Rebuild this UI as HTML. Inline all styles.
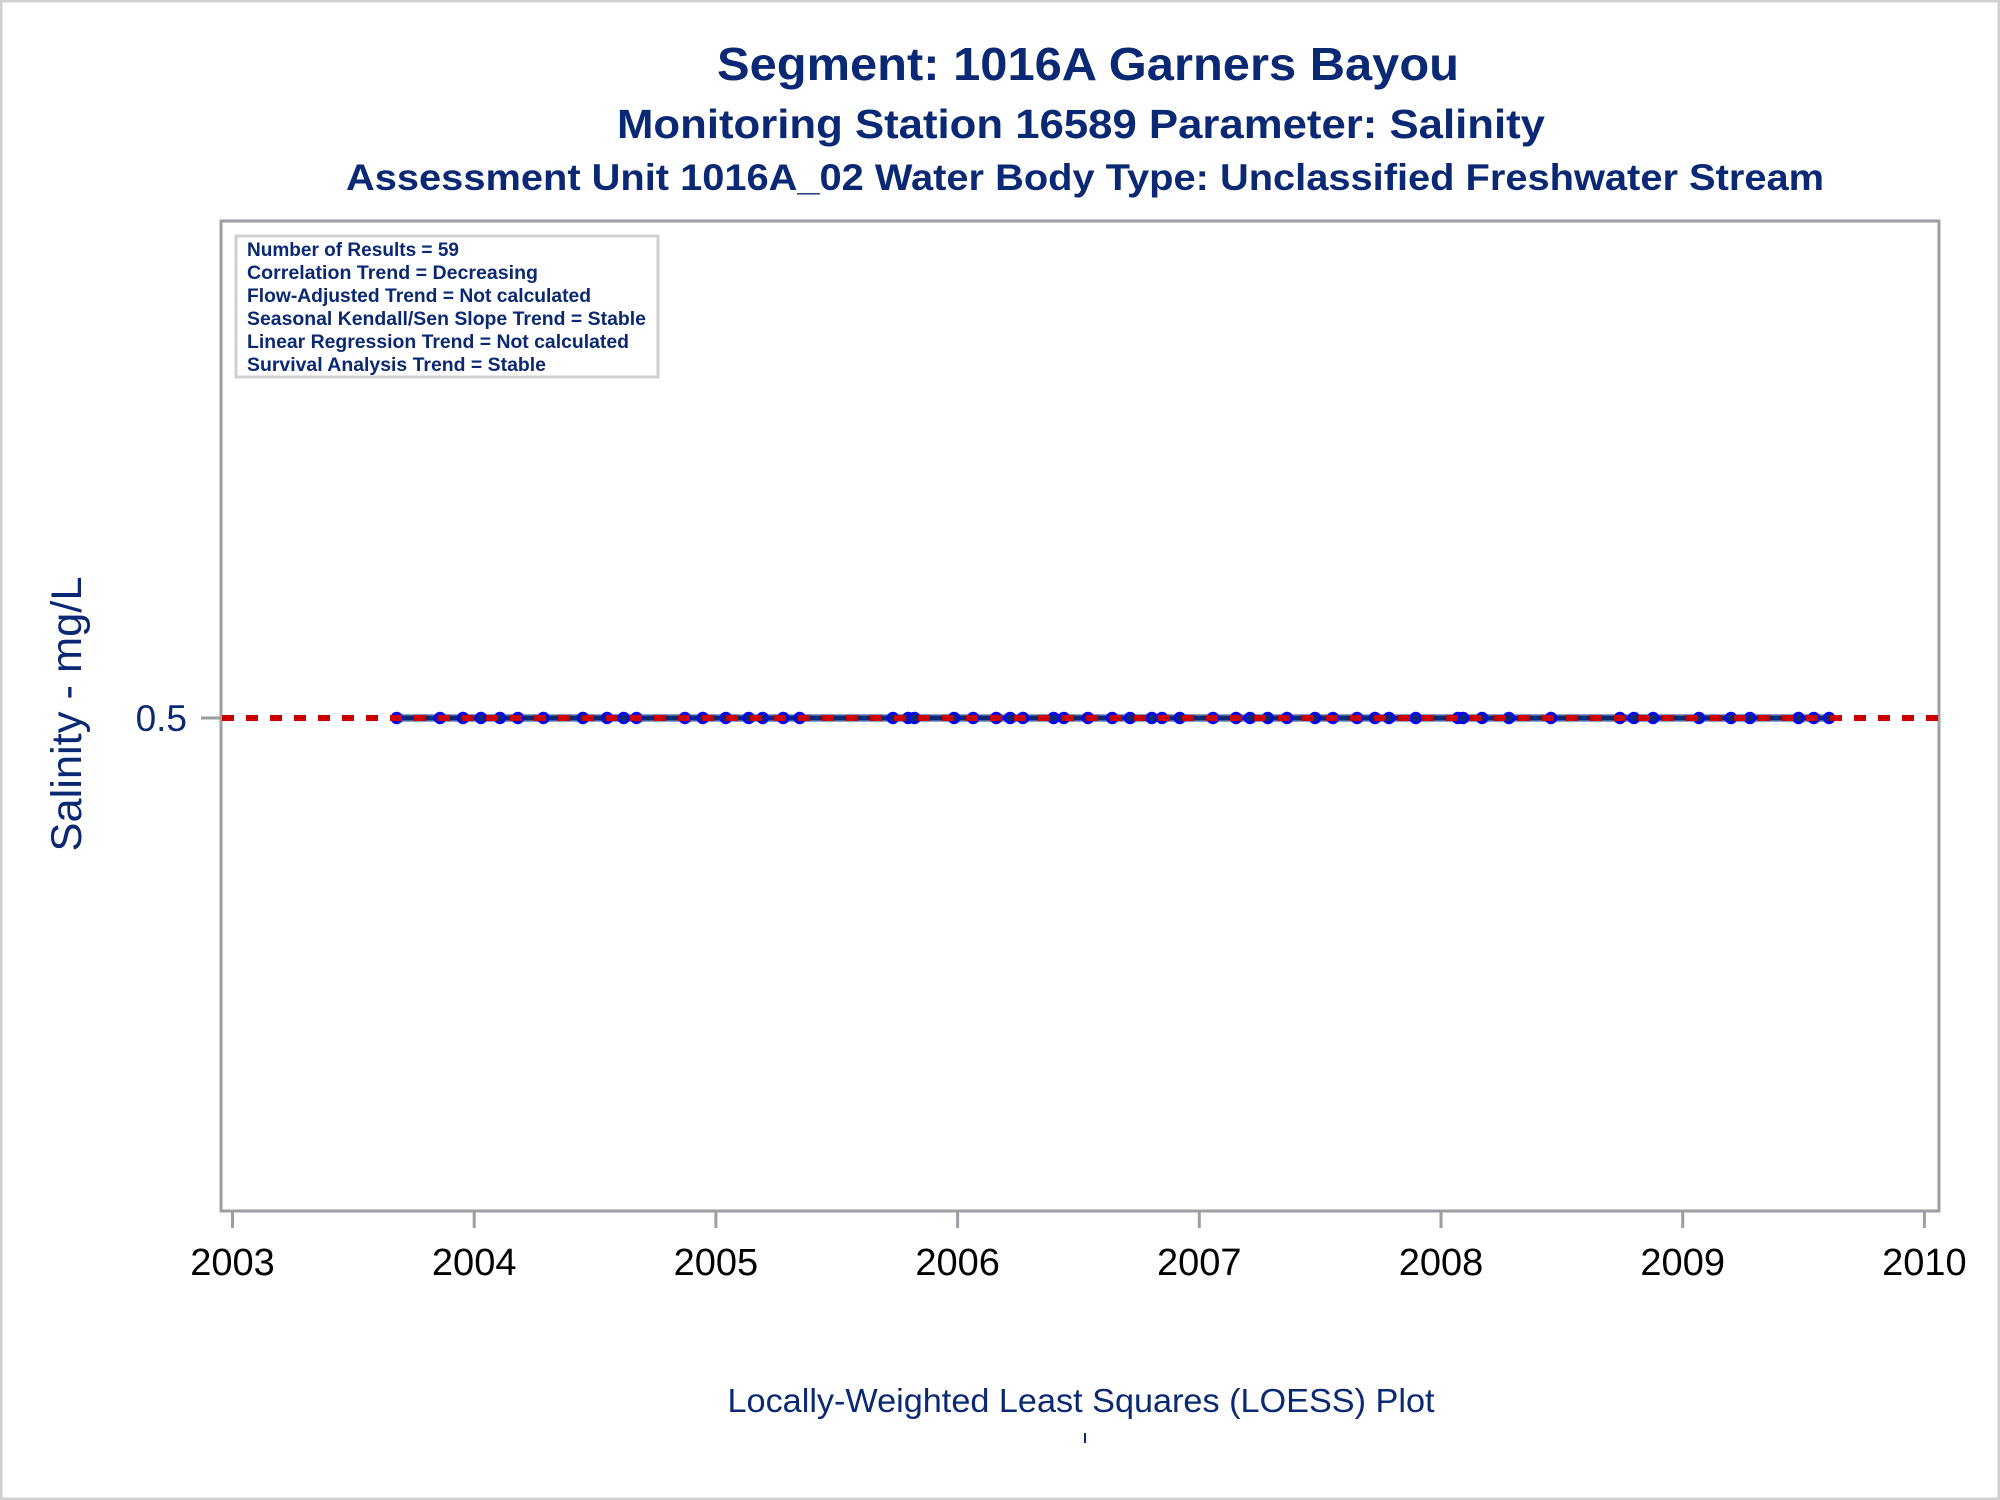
<!DOCTYPE html>
<html><head><meta charset="utf-8"><style>
html,body{margin:0;padding:0;background:#fff}
svg{display:block}
</style></head><body>
<svg width="2000" height="1500" viewBox="0 0 2000 1500" xmlns="http://www.w3.org/2000/svg" font-family="'Liberation Sans', Arial, sans-serif">
<rect x="1" y="1" width="1998" height="1498" fill="#fff" stroke="#d0d0d0" stroke-width="3"/>
<g fill="#0a2873" text-anchor="middle" font-weight="bold">
<text x="1088" y="80" font-size="46" textLength="742" lengthAdjust="spacingAndGlyphs">Segment: 1016A  Garners Bayou</text>
<text x="1081" y="138" font-size="41" textLength="928" lengthAdjust="spacingAndGlyphs">Monitoring Station 16589 Parameter: Salinity</text>
<text x="1085" y="190" font-size="37" textLength="1478" lengthAdjust="spacingAndGlyphs">Assessment Unit 1016A_02   Water Body Type: Unclassified Freshwater Stream</text>
</g>
<rect x="221" y="221" width="1718" height="990" fill="none" stroke="#9b9ea3" stroke-width="3"/>
<rect x="236" y="236" width="422" height="141" fill="#fff" stroke="#d0d0d0" stroke-width="3"/>
<g fill="#0a2873" font-weight="bold" font-size="19">
<text x="247" y="256" textLength="212" lengthAdjust="spacingAndGlyphs">Number of Results = 59</text>
<text x="247" y="279" textLength="291" lengthAdjust="spacingAndGlyphs">Correlation Trend = Decreasing</text>
<text x="247" y="302" textLength="344" lengthAdjust="spacingAndGlyphs">Flow-Adjusted Trend = Not calculated</text>
<text x="247" y="325" textLength="399" lengthAdjust="spacingAndGlyphs">Seasonal Kendall/Sen Slope Trend = Stable</text>
<text x="247" y="348" textLength="382" lengthAdjust="spacingAndGlyphs">Linear Regression Trend = Not calculated</text>
<text x="247" y="371" textLength="299" lengthAdjust="spacingAndGlyphs">Survival Analysis Trend = Stable</text>
</g>
<line x1="201" y1="718" x2="221" y2="718" stroke="#9b9ea3" stroke-width="3"/>
<text x="187" y="731" font-size="37" fill="#0a2873" text-anchor="end">0.5</text>
<text transform="translate(81,714) rotate(-90)" font-size="43" fill="#0a2873" text-anchor="middle" textLength="275" lengthAdjust="spacingAndGlyphs">Salinity - mg/L</text>
<g stroke="#9b9ea3" stroke-width="3">
<line x1="232.5" y1="1211" x2="232.5" y2="1228"/><line x1="474.2" y1="1211" x2="474.2" y2="1228"/><line x1="715.9" y1="1211" x2="715.9" y2="1228"/><line x1="957.6" y1="1211" x2="957.6" y2="1228"/><line x1="1199.3" y1="1211" x2="1199.3" y2="1228"/><line x1="1441" y1="1211" x2="1441" y2="1228"/><line x1="1682.7" y1="1211" x2="1682.7" y2="1228"/><line x1="1924.4" y1="1211" x2="1924.4" y2="1228"/>
</g>
<g font-size="38" fill="#000" text-anchor="middle">
<text x="232.5" y="1275">2003</text><text x="474.2" y="1275">2004</text><text x="715.9" y="1275">2005</text><text x="957.6" y="1275">2006</text><text x="1199.3" y="1275">2007</text><text x="1441" y="1275">2008</text><text x="1682.7" y="1275">2009</text><text x="1924.4" y="1275">2010</text>
</g>
<line x1="397" y1="718" x2="1830" y2="718" stroke="#8aa0c8" stroke-width="8"/>
<line x1="397" y1="718" x2="1830" y2="718" stroke="#0a2873" stroke-width="5"/>
<g fill="#0a2873" stroke="#0000ff" stroke-width="2.5">
<circle cx="396.7" cy="718" r="5"/><circle cx="440" cy="718" r="5"/><circle cx="463" cy="718" r="5"/><circle cx="480.9" cy="718" r="5"/><circle cx="500" cy="718" r="5"/><circle cx="517.9" cy="718" r="5"/><circle cx="543.4" cy="718" r="5"/><circle cx="582.9" cy="718" r="5"/><circle cx="607.1" cy="718" r="5"/><circle cx="623.7" cy="718" r="5"/><circle cx="636.5" cy="718" r="5"/><circle cx="684.9" cy="718" r="5"/><circle cx="702.8" cy="718" r="5"/><circle cx="725.8" cy="718" r="5"/><circle cx="748.7" cy="718" r="5"/><circle cx="762.7" cy="718" r="5"/><circle cx="783.2" cy="718" r="5"/><circle cx="799.7" cy="718" r="5"/><circle cx="892.9" cy="718" r="5"/><circle cx="908.2" cy="718" r="5"/><circle cx="914.5" cy="718" r="5"/><circle cx="954.1" cy="718" r="5"/><circle cx="973.2" cy="718" r="5"/><circle cx="996.2" cy="718" r="5"/><circle cx="1010.2" cy="718" r="5"/><circle cx="1023" cy="718" r="5"/><circle cx="1053.6" cy="718" r="5"/><circle cx="1063.8" cy="718" r="5"/><circle cx="1088" cy="718" r="5"/><circle cx="1112.2" cy="718" r="5"/><circle cx="1130.1" cy="718" r="5"/><circle cx="1151.8" cy="718" r="5"/><circle cx="1162" cy="718" r="5"/><circle cx="1179.8" cy="718" r="5"/><circle cx="1213" cy="718" r="5"/><circle cx="1236" cy="718" r="5"/><circle cx="1250" cy="718" r="5"/><circle cx="1267.8" cy="718" r="5"/><circle cx="1287" cy="718" r="5"/><circle cx="1315" cy="718" r="5"/><circle cx="1332.9" cy="718" r="5"/><circle cx="1357.1" cy="718" r="5"/><circle cx="1375" cy="718" r="5"/><circle cx="1389" cy="718" r="5"/><circle cx="1415.8" cy="718" r="5"/><circle cx="1457.9" cy="718" r="5"/><circle cx="1463" cy="718" r="5"/><circle cx="1482.1" cy="718" r="5"/><circle cx="1508.9" cy="718" r="5"/><circle cx="1551" cy="718" r="5"/><circle cx="1619.9" cy="718" r="5"/><circle cx="1633.9" cy="718" r="5"/><circle cx="1653.1" cy="718" r="5"/><circle cx="1699" cy="718" r="5"/><circle cx="1730.9" cy="718" r="5"/><circle cx="1750" cy="718" r="5"/><circle cx="1798.5" cy="718" r="5"/><circle cx="1813.8" cy="718" r="5"/><circle cx="1829.1" cy="718" r="5"/>
</g>
<line x1="222" y1="718" x2="1938" y2="718" stroke="#cc0000" stroke-width="6" stroke-dasharray="12 12"/>
<text x="1081" y="1412" font-size="33" fill="#0a2873" text-anchor="middle" textLength="707" lengthAdjust="spacingAndGlyphs">Locally-Weighted Least Squares (LOESS) Plot</text>
<rect x="1084" y="1433" width="2" height="10" fill="#0a2873"/>
</svg>
</body></html>
